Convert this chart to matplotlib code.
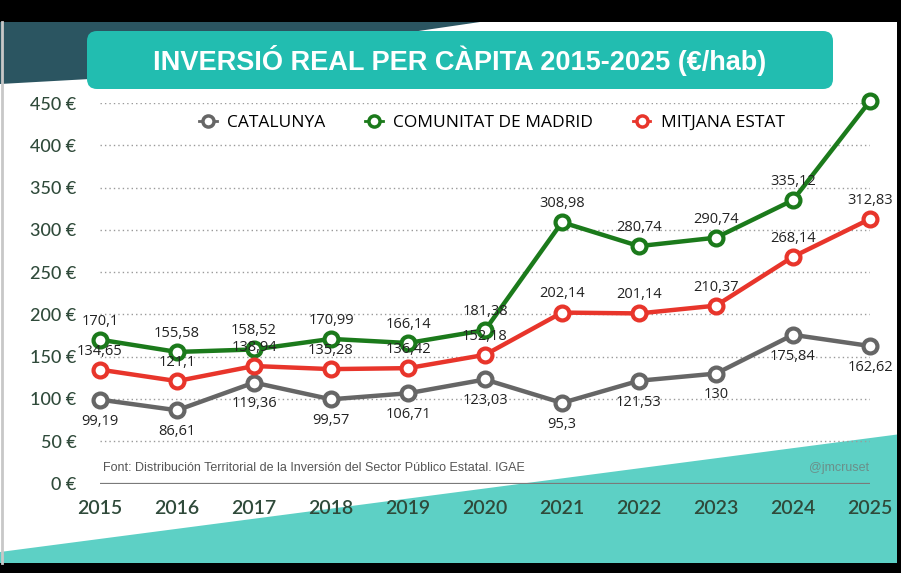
import matplotlib.pyplot as plt
from matplotlib.patches import Polygon, FancyBboxPatch
from matplotlib.lines import Line2D
import numpy as np

# dades
anys = [2015, 2016, 2017, 2018, 2019, 2020, 2021, 2022, 2023, 2024, 2025]
catalunya = [99.19, 86.61, 119.36, 99.57, 106.71, 123.03, 95.3, 121.53, 130, 175.84, 162.62]
madrid = [170.1, 155.58, 158.52, 170.99, 166.14, 181.38, 308.98, 280.74, 290.74, 335.12, 452.32]
mitjana = [134.65, 121.1, 138.94, 135.28, 136.42, 152.18, 202.14, 201.14, 210.37, 268.14, 312.83]
yticks = [0, 50, 100, 150, 200, 250, 300, 350, 400, 450]

titol = 'INVERSIÓ REAL PER CÀPITA 2015-2025 (€/hab)'
font_txt = 'Font: Distribución Territorial de la Inversión del Sector Público Estatal. IGAE'

gris = '#666666'
verd = '#1b7a1b'
vermell = '#e8352b'

W, H = 901, 573
fig = plt.figure(figsize=(W / 100, H / 100), dpi=100)
fig.patch.set_facecolor('white')

# fons (coordenades en pixels)
bg = fig.add_axes([0, 0, 1, 1], zorder=-1)
bg.set_xlim(0, W)
bg.set_ylim(H, 0)
bg.axis('off')
bg.add_patch(Polygon([(0, 22), (480, 22), (90, 79), (0, 84)], closed=True, color='#2b5561', lw=0))
bg.add_patch(Polygon([(0, 552), (W, 434), (W, H), (0, H)], closed=True, color='#5dd0c5', lw=0))
bg.add_patch(Polygon([(0, 0), (W, 0), (W, 22), (0, 22)], closed=True, color='black', lw=0))
bg.add_patch(Polygon([(0, 563), (W, 563), (W, H), (0, H)], closed=True, color='black', lw=0))
bg.add_patch(Polygon([(W - 4, 0), (W, 0), (W, H), (W - 4, H)], closed=True, color='black', lw=0))
bg.plot([1.5, 1.5], [22, 563], color='#c8c8c8', lw=2)
bg.add_patch(FancyBboxPatch((87, 31), 746, 58, boxstyle='round,pad=0,rounding_size=10',
                            color='#22bdb0', lw=0))
bg.text(460, 61, titol, color='white', fontsize=19.5, fontweight='bold',
        family=['Liberation Sans', 'DejaVu Sans'], ha='center', va='center')

# grafic
ax = fig.add_axes([100 / W, (H - 483.5) / H, 770 / W, 380.5 / H])
ax.patch.set_alpha(0)
ax.set_xlim(2015, 2025)
ax.set_ylim(0, 450)

for y in yticks[1:]:
    ax.axhline(y, color='#9a9a9a', lw=1, ls=(0, (1, 2.2)), zorder=1)
ax.axhline(0, color='#7a7a7a', lw=1.6, zorder=1)

series = [(catalunya, gris, 'CATALUNYA', 'below'),
          (madrid, verd, 'COMUNITAT DE MADRID', 'above'),
          (mitjana, vermell, 'MITJANA ESTAT', 'above')]

for vals, c, nom, pos in series:
    ax.plot(anys, vals, color=c, lw=3.2, marker='o', ms=10, mfc='white', mec=c, mew=3,
            clip_on=False, zorder=3, label=nom)
    for x, v in zip(anys, vals):
        txt = ('%g' % v).replace('.', ',')
        if pos == 'below':
            ax.annotate(txt, (x, v), xytext=(0, -10), textcoords='offset points',
                        ha='center', va='top', fontsize=10.5, color='#222222',
                        family=['Open Sans', 'DejaVu Sans'], zorder=4)
        else:
            ax.annotate(txt, (x, v), xytext=(0, 8), textcoords='offset points',
                        ha='center', va='bottom', fontsize=10.5, color='#222222',
                        family=['Open Sans', 'DejaVu Sans'], zorder=4)

for s in ax.spines.values():
    s.set_visible(False)
ax.set_xticks(anys)
ax.set_xticklabels([str(a) for a in anys], fontsize=14, color='#2f4a3a',
                   family=['Lato', 'DejaVu Sans'], fontweight='semibold')
ax.set_yticks(yticks)
ax.set_yticklabels(['%d €' % y for y in yticks], fontsize=13, color='#2f4a3a',
                   family=['Lato', 'DejaVu Sans'], fontweight='medium')
ax.tick_params(axis='x', length=0, pad=12)
ax.tick_params(axis='y', length=0, pad=17)

handles = [Line2D([], [], color=c, lw=2, marker='o', ms=8, mfc='white', mec=c, mew=2.5)
           for _, c, _, _ in series]
fig.legend(handles, [s[2] for s in series], loc='center', bbox_to_anchor=(492 / W, 1 - 123 / H),
           ncol=3, frameon=False, handlelength=1.0, handletextpad=0.6, columnspacing=2.3,
           prop={'family': ['Open Sans', 'DejaVu Sans'], 'size': 12.5})

fig.text(103 / W, 1 - 468 / H, font_txt, fontsize=9, color='#555555', va='center',
         family=['Liberation Sans Narrow', 'Liberation Sans'])
fig.text(869 / W, 1 - 468 / H, '@jmcruset', fontsize=9, color='#6b8f8a', va='center', ha='right',
         family=['Liberation Sans Narrow', 'Liberation Sans'])

fig.savefig('out.png', dpi=100)
